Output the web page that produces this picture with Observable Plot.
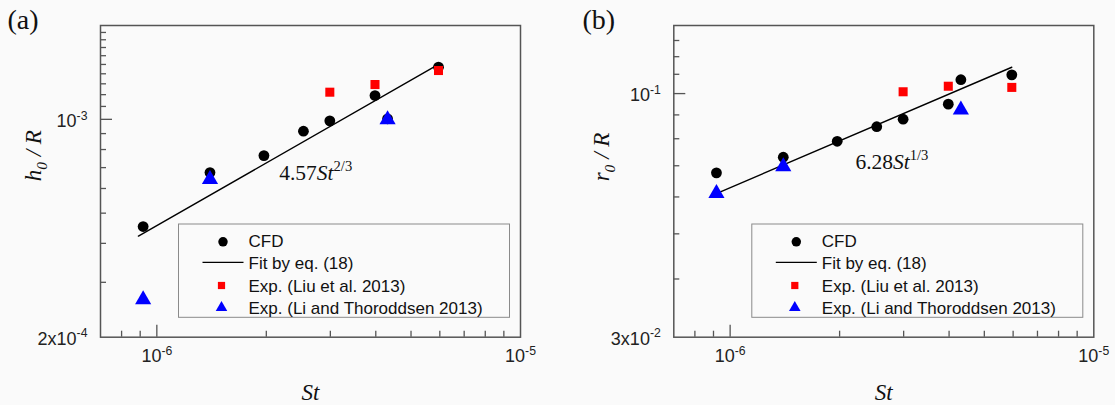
<!DOCTYPE html>
<html>
<head>
<meta charset="utf-8">
<script src="https://cdn.jsdelivr.net/npm/d3@7"></script>
<script src="https://cdn.jsdelivr.net/npm/@observablehq/plot@0.6"></script>
<style>
  html, body { margin: 0; padding: 0; background: #fafafa; }
  #wrap { position: relative; width: 1115px; height: 405px; overflow: hidden; }
  .panel { position: absolute; top: 0; height: 405px; }
  .panel svg { position: absolute; left: 0; top: 0; }
</style>
</head>
<body>
<div id="wrap"></div>
<script>
// ---------------- data ----------------
const St      = [9.17e-7, 1.40e-6, 1.97e-6, 2.53e-6, 2.99e-6, 3.98e-6, 4.31e-6, 5.95e-6];
const cfdH    = [4.53e-4, 6.75e-4, 7.65e-4, 9.16e-4, 9.89e-4, 1.192e-3, 1.004e-3, 1.470e-3];
const cfdR    = [0.0676, 0.0730, 0.0790, 0.0849, 0.0881, 0.0949, 0.1071, 0.1097];
const liuSt   = [2.99e-6, 3.98e-6, 5.95e-6];
const liuH    = [1.222e-3, 1.293e-3, 1.434e-3];
const liuR    = [0.1009, 0.1037, 0.1031];
const liSt    = [9.17e-7, 1.40e-6, 4.31e-6];
const liH     = [2.64e-4, 6.42e-4, 9.99e-4];
const liR     = [0.0611, 0.0697, 0.0923];
const fitStA  = [8.9e-7, 5.95e-6];
const fitH    = [4.22e-4, 1.50e-3];
const fitStB  = [9.3e-7, 5.95e-6];
const fitR    = [0.0613, 0.1139];

const xDomain     = [7e-7, 1e-5];
const xMajorTicks = [1e-6];
const xMinorTicks = [8e-7, 9e-7, 2e-6, 3e-6, 4e-6, 5e-6, 6e-6, 7e-6, 8e-6, 9e-6];
const xTickVals   = [1e-6, 1e-5];
const xTickLabels = ["10^{-6}", "10^{-5}"];

const yDomainA     = [2e-4, 2e-3];
const yMajorTicksA = [1e-3];
const yMinorTicksA = [3e-4, 4e-4, 5e-4, 6e-4, 7e-4, 8e-4, 9e-4, 1.1e-3, 1.2e-3, 1.3e-3, 1.4e-3, 1.5e-3, 1.6e-3, 1.7e-3, 1.8e-3, 1.9e-3];
const yTickValsA   = [2e-4, 1e-3];
const yTickLabelsA = ["2x10^{-4}", "10^{-3}"];

const yDomainB     = [0.03, 0.14];
const yMajorTicksB = [0.1];
const yMinorTicksB = [0.04, 0.05, 0.06, 0.07, 0.08, 0.09, 0.11, 0.12, 0.13];
const yTickValsB   = [0.03, 0.1];
const yTickLabelsB = ["3x10^{-2}", "10^{-1}"];

const seriesNames = ["CFD", "Fit by eq. (18)", "Exp. (Liu et al. 2013)", "Exp. (Li and Thoroddsen 2013)"];
const annA = [{St: 2.17e-6, v: 6.37e-4, text: "4.57|St|^{2/3}"}];
const annB = [{St: 2.21e-6, v: 0.0689, text: "6.28|St|^{1/3}"}];

// ---------------- styling ----------------
const SANS = "'Liberation Sans', Arial, sans-serif";
const SERIF = "'Liberation Serif', 'Times New Roman', serif";
const FRAME = "#555";

function zip(xs, ys) { return xs.map((x, i) => ({x, y: ys[i]})); }

function richify(root) {
  root.querySelectorAll("text").forEach(t => {
    const s = t.textContent;
    if (!/\^\{|_\{|\|/.test(s)) return;
    const fs = parseFloat(getComputedStyle(t).fontSize) || 16;
    while (t.firstChild) t.removeChild(t.firstChild);
    const parts = s.split(/(\^\{[^}]*\}|_\{[^}]*\}|\|[^|]*\|)/).filter(p => p !== "");
    let cur = 0;
    for (const p of parts) {
      let content = p, off = 0, small = false, ital = false;
      if (p.startsWith("^{")) { content = p.slice(2, -1); off = -0.42 * fs; small = true; }
      else if (p.startsWith("_{")) { content = p.slice(2, -1); off = 0.25 * fs; small = true; }
      else if (p.startsWith("|")) { content = p.slice(1, -1); ital = true; }
      const ts = document.createElementNS("http://www.w3.org/2000/svg", "tspan");
      ts.textContent = content;
      if (off !== cur) ts.setAttribute("dy", (off - cur).toFixed(2));
      cur = off;
      if (small) ts.setAttribute("font-size", (0.68 * fs).toFixed(2));
      if (ital) ts.setAttribute("font-style", "italic");
      t.appendChild(ts);
    }
  });
}

function panel(cfg) {
  const {left, width, ml, mr, yDomain, yMajor, yMinor, yTickVals, yTickLabels,
         cfdY, liuY, liY, fitSt, fitY, ann, tag, tagDx, yTitle, yTitleDx} = cfg;
  const height = 405, mt = 25, mb = 68.3;
  const W = width - ml - mr, H = height - mt - mb;

  const div = document.createElement("div");
  div.className = "panel";
  div.style.left = left + "px";
  div.style.width = width + "px";
  document.getElementById("wrap").appendChild(div);

  const chart = Plot.plot({
    width, height, marginLeft: ml, marginRight: mr, marginTop: mt, marginBottom: mb,
    style: {background: "transparent", fontFamily: SANS, overflow: "visible"},
    x: {type: "log", domain: xDomain, axis: null},
    y: {type: "log", domain: yDomain, axis: null},
    marks: [
      Plot.frame({stroke: FRAME, strokeWidth: 1.5}),
      Plot.tickX(xMinorTicks, {x: d => d, insetTop: H - 6, stroke: FRAME, strokeWidth: 1.3}),
      Plot.tickX(xMajorTicks, {x: d => d, insetTop: H - 12, stroke: FRAME, strokeWidth: 1.3}),
      Plot.tickY(yMinor, {y: d => d, insetRight: W - 6, stroke: FRAME, strokeWidth: 1.3}),
      Plot.tickY(yMajor, {y: d => d, insetRight: W - 12, stroke: FRAME, strokeWidth: 1.3}),
      Plot.text(xTickVals, {x: d => d, text: (d, i) => xTickLabels[i], frameAnchor: "bottom", dy: 25,
        fontSize: 18, fill: "#222"}),
      Plot.text(yTickVals, {y: d => d, text: (d, i) => yTickLabels[i], frameAnchor: "left", dx: -13, dy: 2,
        textAnchor: "end", fontSize: 18, fill: "#222"}),
      Plot.text(["St"], {text: d => d, frameAnchor: "bottom", dy: 63, lineAnchor: "bottom",
        fontFamily: SERIF, fontStyle: "italic", fontSize: 23, fill: "#111"}),
      Plot.text([yTitle], {text: d => d, frameAnchor: "left", dx: yTitleDx, rotate: -90,
        fontFamily: SERIF, fontStyle: "italic", fontSize: 23, fill: "#111"}),
      Plot.text([tag], {text: d => d, frameAnchor: "top-left", dx: tagDx, dy: 3, textAnchor: "start",
        lineAnchor: "bottom", fontFamily: SERIF, fontSize: 28, fill: "#111"}),
      Plot.line(zip(fitSt, fitY), {x: "x", y: "y", stroke: "black", strokeWidth: 1.4}),
      Plot.dot(zip(St, cfdY), {x: "x", y: "y", r: 5.4, fill: "black", symbol: "circle"}),
      Plot.dot(zip(liuSt, liuY), {x: "x", y: "y", r: 5.1, fill: "#ff0000", symbol: "square"}),
      Plot.dot(zip(liSt, liY), {x: "x", y: "y", r: 6, fill: "#0000ff", symbol: "triangle"}),
      Plot.text(ann, {x: "St", y: "v", text: "text", textAnchor: "start", lineAnchor: "bottom",
        fontFamily: SERIF, fontSize: 21.5, fill: "#111"})
    ]
  });
  div.appendChild(chart);
  richify(chart);

  // legend overlay
  const L = ml + 78.5, R = width - mr - 10.5, T = 224, B = 317.3;
  const svg = d3.select(div).append("svg")
    .attr("width", width).attr("height", height)
    .style("pointer-events", "none");
  svg.append("rect").attr("x", L).attr("y", T).attr("width", R - L).attr("height", B - T)
    .attr("fill", "none").attr("stroke", "#8a8a8a").attr("stroke-width", 1);
  const base = i => T + 23.3 + 22.1 * i;
  const mx = L + 44.5;
  svg.append("path").attr("d", d3.symbol(d3.symbolCircle, 70)())
    .attr("transform", `translate(${mx},${base(0) - 5.5})`).attr("fill", "black");
  svg.append("line").attr("x1", L + 24).attr("x2", L + 65)
    .attr("y1", base(1) - 7).attr("y2", base(1) - 7).attr("stroke", "black").attr("stroke-width", 1.4);
  svg.append("path").attr("d", d3.symbol(d3.symbolSquare, 52)())
    .attr("transform", `translate(${mx - 1.5},${base(2) - 6})`).attr("fill", "#ff0000");
  svg.append("path").attr("d", d3.symbol(d3.symbolTriangle, 58)())
    .attr("transform", `translate(${mx - 1.5},${base(3) - 6})`).attr("fill", "#0000ff");
  seriesNames.forEach((s, i) => {
    svg.append("text").attr("x", L + 70).attr("y", base(i)).text(s)
      .attr("font-family", SANS).attr("font-size", 17).attr("fill", "#111");
  });
}

panel({left: 0, width: 557, ml: 100, mr: 37,
  yDomain: yDomainA, yMajor: yMajorTicksA, yMinor: yMinorTicksA,
  yTickVals: yTickValsA, yTickLabels: yTickLabelsA,
  cfdY: cfdH, liuY: liuH, liY: liH, fitSt: fitStA, fitY: fitH, ann: annA,
  tag: "(a)", tagDx: -93, yTitle: "h_{0} / R", yTitleDx: -67});

panel({left: 557, width: 558, ml: 116.3, mr: 21.7,
  yDomain: yDomainB, yMajor: yMajorTicksB, yMinor: yMinorTicksB,
  yTickVals: yTickValsB, yTickLabels: yTickLabelsB,
  cfdY: cfdR, liuY: liuR, liY: liR, fitSt: fitStB, fitY: fitR, ann: annB,
  tag: "(b)", tagDx: -91.3, yTitle: "r_{0} / R", yTitleDx: -72.3});
</script>
</body>
</html>
